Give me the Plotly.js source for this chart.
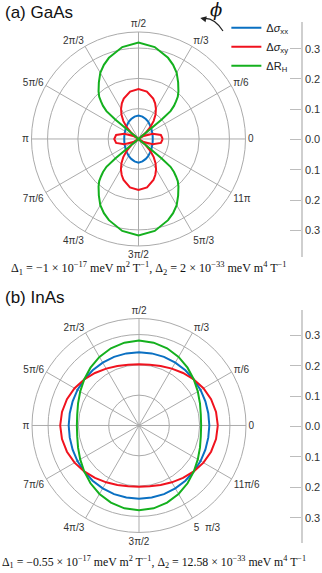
<!DOCTYPE html>
<html>
<head>
<meta charset="utf-8">
<script src="https://cdn.plot.ly/plotly-3.0.1.min.js"></script>
<style>
  html, body { margin: 0; padding: 0; background: #fff; }
  #plot { width: 322px; height: 573px; }
</style>
</head>
<body>
<div id="plot"></div>
<script>
// angular ticks
var angleTicks = [0, 30, 60, 90, 120, 150, 180, 210, 240, 270, 300, 330];
var angleLabelsA = ['0', 'π/6', 'π/3', 'π/2', '2π/3', '5π/6', 'π', '7π/6', '4π/3', '3π/2', '5π/3', '11π'];
var angleLabelsB = ['0', 'π/6', 'π/3', 'π/2', '2π/3', '5π/6', 'π', '7π/6', '4π/3', '3π/2', '5\u00a0\u00a0π/3', '11π/6'];
var scaleVals = [0.3, 0.2, 0.1, 0, -0.1, -0.2, -0.3];
var scaleText = ['0.3', '0.2', '0.1', '0.0', '0.1', '0.2', '0.3'];

// (a) GaAs
var thetaBlueA = [0,10,20,30,40,50,60,70,80,90,100,110,120,130,140,150,160,170,180,
  190,200,210,220,230,240,250,260,270,280,290,300,310,320,330,340,350,360];
var rBlueA = [0.047,0.0475,0.049,0.051,0.055,0.059,0.065,0.070,0.075,0.077,0.075,0.070,0.065,0.059,0.055,0.051,0.049,0.0475,0.047,
  0.0475,0.049,0.051,0.055,0.059,0.065,0.070,0.075,0.078,0.075,0.070,0.065,0.059,0.055,0.051,0.049,0.0475,0.047];

var thetaRedA = [0,10,20,30,35,40,45,50,55,60,65,70,80,90,100,110,115,120,125,130,135,140,145,150,160,170,180,
  190,200,210,215,220,225,230,235,240,245,250,260,270,280,290,295,300,305,310,315,320,325,330,340,350,360];
var rRedA = [0.080,0.075,0.050,0.020,0,0.030,0.055,0.078,0.098,0.115,0.130,0.142,0.159,0.165,0.159,0.142,0.130,0.115,0.098,0.078,0.055,0.030,0,0.020,0.050,0.075,0.080,
  0.075,0.050,0.020,0,0.030,0.055,0.078,0.098,0.116,0.131,0.144,0.162,0.168,0.162,0.144,0.131,0.116,0.098,0.078,0.055,0.030,0,0.020,0.050,0.075,0.080];

var thetaGreenA = [39,40,41,43,45,47,50,55,60,65,70,80,90,100,110,115,120,125,130,133,135,137,139,140,141,
  219,220,221,223,225,227,230,235,240,245,250,260,270,280,290,295,300,305,310,313,315,317,319,320,321,399];
var rGreenA = [0,0.10,0.14,0.16,0.175,0.19,0.205,0.228,0.252,0.270,0.285,0.308,0.318,0.308,0.285,0.270,0.252,0.228,0.205,0.19,0.175,0.16,0.14,0.10,0,
  0,0.10,0.14,0.16,0.175,0.19,0.205,0.228,0.252,0.270,0.285,0.308,0.318,0.308,0.285,0.270,0.252,0.228,0.205,0.19,0.175,0.16,0.14,0.10,0,0];

// (b) InAs
var thetaB = [0,10,20,30,40,50,60,70,80,90,100,110,120,130,140,150,160,170,180,
  190,200,210,220,230,240,250,260,270,280,290,300,310,320,330,340,350,360];
var rBlueB = [0.232,0.232,0.233,0.2345,0.236,0.238,0.2395,0.241,0.2415,0.242,0.2415,0.241,0.2395,0.238,0.236,0.2345,0.233,0.232,0.232,
  0.232,0.233,0.2345,0.236,0.238,0.2395,0.241,0.2415,0.242,0.2415,0.241,0.2395,0.238,0.236,0.2345,0.233,0.232,0.232];
var rRedB = [0.260,0.258,0.253,0.2455,0.236,0.226,0.2165,0.209,0.2035,0.202,0.2035,0.209,0.2165,0.226,0.236,0.2455,0.253,0.258,0.260,
  0.258,0.253,0.2455,0.236,0.226,0.2165,0.209,0.2035,0.202,0.2035,0.209,0.2165,0.226,0.236,0.2455,0.253,0.258,0.260];
var rGreenB = [0.205,0.207,0.214,0.224,0.236,0.249,0.261,0.271,0.2775,0.280,0.2775,0.271,0.261,0.249,0.236,0.224,0.214,0.207,0.205,
  0.207,0.214,0.224,0.236,0.249,0.261,0.271,0.2775,0.280,0.2775,0.271,0.261,0.249,0.236,0.224,0.214,0.207,0.205];

var blue = '#0a70c2', red = '#f0121e', green = '#14b01e';

function curve(theta, r, color, name, subplot, legend) {
  return {
    type: 'scatterpolar', mode: 'lines', theta: theta, r: r,
    line: {color: color, width: 2}, name: name, subplot: subplot,
    showlegend: legend, hoverinfo: 'skip'
  };
}

var data = [
  curve(thetaBlueA, rBlueA, blue, 'Δ<i>σ</i><sub>xx</sub>', 'polar', true),
  curve(thetaRedA, rRedA, red, 'Δ<i>σ</i><sub>xy</sub>', 'polar', true),
  curve(thetaGreenA, rGreenA, green, 'ΔR<sub>H</sub>', 'polar', true),
  curve(thetaB, rBlueB, blue, 'Δσxx', 'polar2', false),
  curve(thetaB, rRedB, red, 'Δσxy', 'polar2', false),
  curve(thetaB, rGreenB, green, 'ΔRH', 'polar2', false),
  {type: 'scatter', x: [], y: [], xaxis: 'x', yaxis: 'y', showlegend: false, hoverinfo: 'skip'},
  {type: 'scatter', x: [], y: [], xaxis: 'x', yaxis: 'y2', showlegend: false, hoverinfo: 'skip'}
];

var grid = '#ababab';

function polarLayout(dx, dy, labels) {
  return {
    domain: {x: dx, y: dy},
    bgcolor: 'rgba(0,0,0,0)',
    radialaxis: {range: [0, 0.353], tickmode: 'array', tickvals: [0.1, 0.2, 0.3],
      showticklabels: false, ticks: '', showline: false, gridcolor: grid, gridwidth: 1},
    angularaxis: {tickmode: 'array', tickvals: angleTicks, ticktext: labels,
      direction: 'counterclockwise', rotation: 0, ticks: '',
      showline: true, linecolor: grid, linewidth: 1, gridcolor: grid, gridwidth: 1,
      tickfont: {size: 10, color: '#333'}}
  };
}

function scaleAxis(dom, half) {
  return {
    domain: dom, anchor: 'free', position: 0.937, side: 'right',
    range: [-half, half], tickmode: 'array', tickvals: scaleVals, ticktext: scaleText,
    ticks: 'inside', ticklen: 11, tickcolor: '#bdbdbd', tickwidth: 1,
    showline: true, linecolor: '#cfcfcf', linewidth: 2,
    showgrid: false, zeroline: false, tickfont: {size: 11, color: '#333'}
  };
}

var layout = {
  width: 322, height: 573,
  margin: {l: 0, r: 0, t: 0, b: 0},
  paper_bgcolor: '#fff', plot_bgcolor: 'rgba(0,0,0,0)',
  font: {family: 'Liberation Sans, Arial, sans-serif', color: '#222'},
  polar: polarLayout([0.0978, 0.7624], [0.5707, 0.9442], angleLabelsA),
  polar2: polarLayout([0.0994, 0.764], [0.0707, 0.4442], angleLabelsB),
  xaxis: {domain: [0.9, 0.95], visible: false, range: [0, 1], anchor: 'y'},
  yaxis: scaleAxis([0.5515, 0.9616], 0.388),
  yaxis2: scaleAxis([0.0524, 0.459], 0.383),
  showlegend: true,
  legend: {x: 0.703, y: 0.977, xanchor: 'left', yanchor: 'top', bgcolor: 'rgba(0,0,0,0)',
    font: {size: 11, color: '#222'}, tracegroupgap: 0, itemwidth: 30},
  shapes: [
    {type: 'path', xref: 'paper', yref: 'paper', path: 'M 0.6925 0.9459 Q 0.6646 0.9703 0.6304 0.9677',
      line: {color: '#222', width: 1.2}}
  ],
  annotations: [
    {text: '(a) GaAs', xref: 'paper', yref: 'paper', x: 0.009, y: 0.979, xanchor: 'left', yanchor: 'middle',
      showarrow: false, font: {size: 17, color: '#111'}},
    {text: '(b) InAs', xref: 'paper', yref: 'paper', x: 0.009, y: 0.4808, xanchor: 'left', yanchor: 'middle',
      showarrow: false, font: {size: 17, color: '#111'}},
    {text: '<i>ϕ</i>', xref: 'paper', yref: 'paper', x: 0.672, y: 0.9835, xanchor: 'center', yanchor: 'middle',
      showarrow: false, font: {size: 18, family: 'DejaVu Serif, serif', color: '#111'}},
    {text: '', xref: 'paper', yref: 'paper', x: 0.622, y: 0.9686, ax: 7, ay: 1.5,
      showarrow: true, arrowhead: 2, arrowsize: 1, arrowwidth: 1.2, arrowcolor: '#222'},
    {text: 'Δ<sub>1</sub> = −1 × 10<sup>−17</sup> meV m<sup>2</sup> T<sup>−1</sup>, Δ<sub>2</sub> = 2 × 10<sup>−33</sup> meV m<sup>4</sup> T<sup>−1</sup>',
      xref: 'paper', yref: 'paper', x: 0.028, y: 0.5318, xanchor: 'left', yanchor: 'middle',
      showarrow: false, font: {size: 12.1, family: 'Liberation Serif, serif', color: '#111'}},
    {text: 'Δ<sub>1</sub> = −0.55 × 10<sup>−17</sup> meV m<sup>2</sup> T<sup>−1</sup>, Δ<sub>2</sub> = 12.58 × 10<sup>−33</sup> meV m<sup>4</sup> T<sup>−1</sup>',
      xref: 'paper', yref: 'paper', x: 0.0, y: 0.0197, xanchor: 'left', yanchor: 'middle',
      showarrow: false, font: {size: 11.8, family: 'Liberation Serif, serif', color: '#111'}}
  ]
};

Plotly.newPlot('plot', data, layout, {displayModeBar: false, staticPlot: true});
</script>
</body>
</html>
